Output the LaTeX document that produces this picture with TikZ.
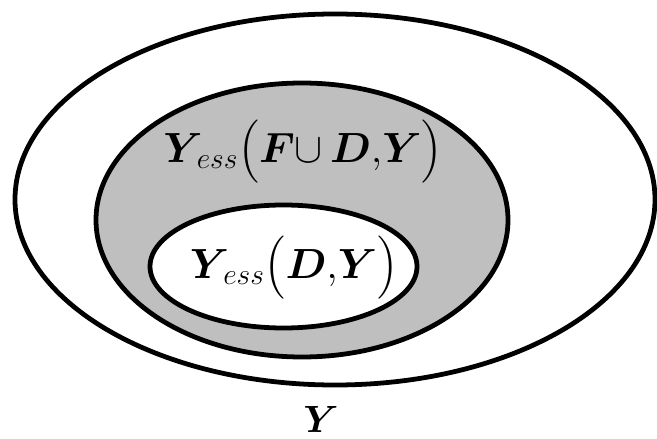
\documentclass[tikz,border=0pt]{standalone}
\usepackage{fix-cm}
\usepackage{amsmath}
\usepackage{bm}
\begin{document}
\begin{tikzpicture}[x=0.025cm, y=-0.025cm, line width=3.4pt,
  setlabel/.style={inner sep=0pt, font=\fontsize{30}{36}\selectfont}]
  \useasboundingbox (0,0) rectangle (657,439);
  % Outer set Y
  \draw (335,199.5) ellipse (320 and 185.5);
  % Grey set Y_ess(F u D, Y)
  \filldraw[fill=black!25] (302,220) ellipse (206 and 137);
  % Inner white set Y_ess(D, Y)
  \filldraw[fill=white] (283.5,266.5) ellipse (133.5 and 61.5);
  % Labels
  \node[setlabel] (fd) at (303,152) {$\bm{Y}_{\,ess}\bigl(\bm{F}{\cup}\,\bm{D}{,}\bm{Y}\bigr)$};
  \node[setlabel] (d) at (294,268) {$\bm{Y}_{\,ess}\bigl(\bm{D}{,}\bm{Y}\bigr)$};
  \node[setlabel, font=\fontsize{27}{32}\selectfont, anchor=base] (y) at (321,432) {$\bm{Y}$};
\end{tikzpicture}
\end{document}
